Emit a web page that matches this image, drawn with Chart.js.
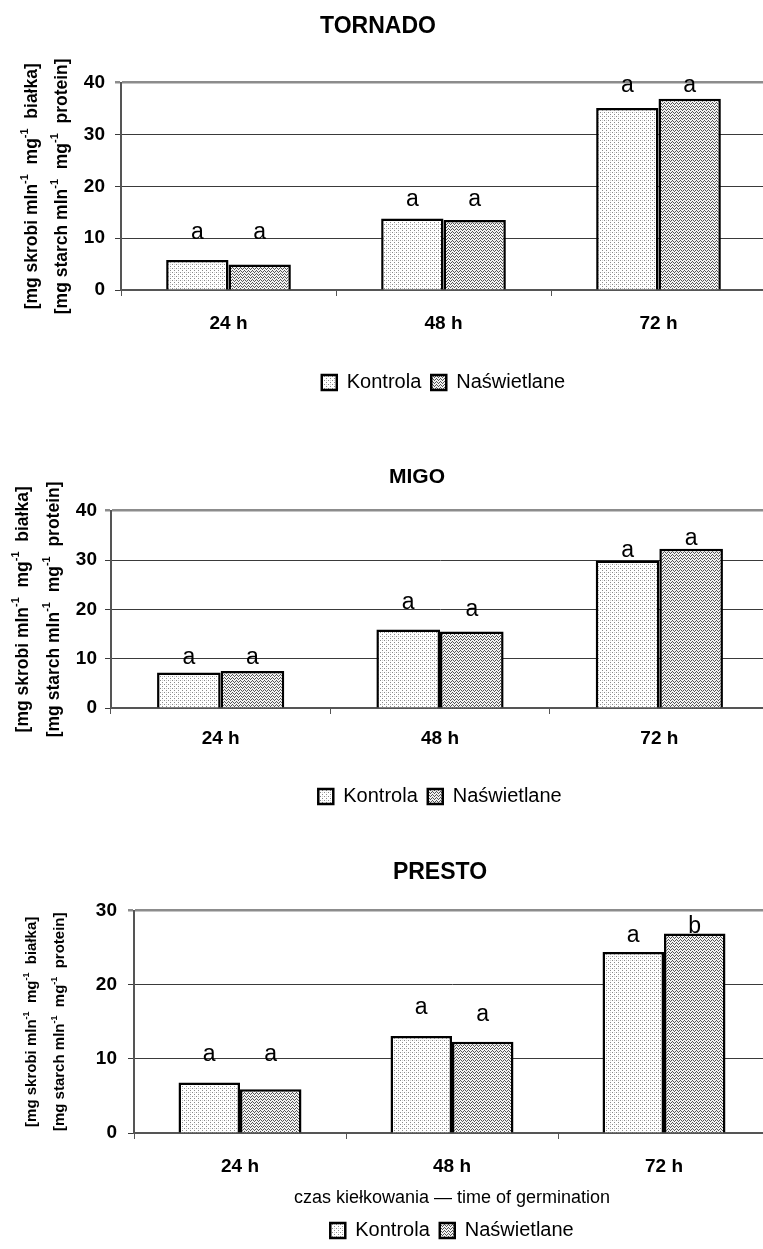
<!DOCTYPE html>
<html>
<head>
<meta charset="utf-8">
<script src="https://cdn.jsdelivr.net/npm/chart.js@4"></script>
<style>
html,body{margin:0;padding:0;background:#fff;overflow:hidden;width:763px;height:1249px;position:relative;}
.wrap{position:absolute;left:0;}
canvas{display:block;}
</style>
</head>
<body>
<div class="wrap" style="top:0px"><canvas id="c1" width="766" height="410"></canvas></div>
<div class="wrap" style="top:440px"><canvas id="c2" width="769" height="400"></canvas></div>
<div class="wrap" style="top:840px"><canvas id="c3" width="770" height="420"></canvas></div>
<script>
// ---------- data ----------
const categories = ['24 h', '48 h', '72 h'];
const seriesNames = ['Kontrola', 'Naświetlane'];

const tornadoKontrola    = [5.8, 13.8, 35.1];
const tornadoNaswietlane = [4.9, 13.5, 36.9];
const migoKontrola       = [7.2, 15.9, 29.9];
const migoNaswietlane    = [7.5, 15.5, 32.3];
const prestoKontrola     = [6.8, 13.1, 24.4];
const prestoNaswietlane  = [5.9, 12.3, 26.9];

// significance letters and the value level at which each letter sits
const tornadoLettersK = ['a', 'a', 'a'];
const tornadoLettersN = ['a', 'a', 'a'];
const tornadoLevelK   = [9.8, 16.2, 38.1];
const tornadoLevelN   = [9.8, 16.2, 38.1];
const migoLettersK    = ['a', 'a', 'a'];
const migoLettersN    = ['a', 'a', 'a'];
const migoLevelK      = [8.9, 20.0, 30.7];
const migoLevelN      = [8.9, 18.6, 33.1];
const prestoLettersK  = ['a', 'a', 'a'];
const prestoLettersN  = ['a', 'a', 'b'];
const prestoLevelK    = [9.7, 16.0, 25.7];
const prestoLevelN    = [9.7, 15.1, 27.0];

const yMax40 = 40;
const yMax30 = 30;
const yStep  = 10;

const titles = ['TORNADO', 'MIGO', 'PRESTO'];
const yTitlePl = ['[mg skrobi mln', '-1', '  mg', '-1', '  białka]'];
const yTitleEn = ['[mg starch mln', '-1', '  mg', '-1', '  protein]'];
const xTitle = 'czas kiełkowania — time of germination';

// ---------- patterns ----------
function dotPattern() {
  const c = document.createElement('canvas'); c.width = 4; c.height = 4;
  const g = c.getContext('2d');
  g.fillStyle = '#ffffff'; g.fillRect(0, 0, 4, 4);
  g.fillStyle = '#8a8a8a';
  g.fillRect(0, 0, 1, 1); g.fillRect(2, 2, 1, 1);
  g.fillStyle = '#d0d0d0';
  g.fillRect(2, 0, 1, 1);
  return g.createPattern(c, 'repeat');
}
function zigPattern() {
  const c = document.createElement('canvas'); c.width = 4; c.height = 3;
  const g = c.getContext('2d');
  g.fillStyle = '#f2f2f2'; g.fillRect(0, 0, 4, 3);
  g.fillStyle = '#555555';
  const ys = [0, 1, 2, 1];
  for (let x = 0; x < 4; x++) g.fillRect(x, ys[x], 1, 1);
  return g.createPattern(c, 'repeat');
}

const FONT = "'Liberation Sans', Arial, sans-serif";
Chart.defaults.font.family = FONT;
Chart.defaults.color = '#000';

function makePlugin(spec) {
  return {
    id: 'extras',
    afterLayout(chart) {
      const t = chart.titleBlock;
      if (t) { t.left += spec.titleShift; t.right += spec.titleShift; }
    },
    afterDatasetsDraw(chart) {
      const ctx = chart.ctx, ys = chart.scales.y;
      ctx.save();
      ctx.fillStyle = '#000';
      ctx.font = `23px ${FONT}`;
      ctx.textAlign = 'center';
      ctx.textBaseline = 'alphabetic';
      spec.letters.forEach((set, di) => {
        const meta = chart.getDatasetMeta(di);
        meta.data.forEach((bar, i) => {
          ctx.fillText(set.text[i], bar.x, ys.getPixelForValue(set.level[i]));
        });
      });
      ctx.restore();
    },
    afterDraw(chart) {
      const ctx = chart.ctx, ca = chart.chartArea;
      const cy = (ca.top + ca.bottom) / 2;
      const size = spec.ySize;
      const big = `bold ${size}px ${FONT}`;
      const small = `bold ${Math.round(size * 0.6)}px ${FONT}`;
      [yTitlePl, yTitleEn].forEach((segs, li) => {
        ctx.save();
        ctx.translate(spec.yTitleX[li], cy);
        ctx.rotate(-Math.PI / 2);
        ctx.fillStyle = '#000';
        ctx.textBaseline = 'middle';
        ctx.textAlign = 'left';
        let total = 0;
        segs.forEach((t, k) => { ctx.font = (k % 2) ? small : big; total += ctx.measureText(t).width; });
        let x = -total / 2;
        segs.forEach((t, k) => {
          ctx.font = (k % 2) ? small : big;
          ctx.fillText(t, x, (k % 2) ? -size * 0.38 : 0);
          x += ctx.measureText(t).width;
        });
        ctx.restore();
      });
    }
  };
}

function build(id, spec) {
  const dots = dotPattern(), zig = zigPattern();
  new Chart(document.getElementById(id), {
    type: 'bar',
    data: {
      labels: categories,
      datasets: [
        { label: seriesNames[0], data: spec.k, backgroundColor: dots, borderColor: '#000', borderWidth: 2.5,
          categoryPercentage: 0.58, barPercentage: 1 },
        { label: seriesNames[1], data: spec.n, backgroundColor: zig, borderColor: '#000', borderWidth: 2.5,
          categoryPercentage: 0.58, barPercentage: 1 }
      ]
    },
    options: {
      responsive: false,
      animation: false,
      layout: { padding: { left: 0, right: 0, top: 0, bottom: spec.padB } },
      plugins: {
        tooltip: { enabled: false },
        title: {
          display: true, text: spec.title, fullSize: spec.titleFull,
          font: { size: spec.titleSize, weight: 'bold', family: FONT }, color: '#000',
          padding: { top: spec.titlePad[0], bottom: spec.titlePad[1] }
        },
        legend: {
          position: 'bottom', fullSize: false,
          labels: { boxWidth: 15, boxHeight: 15, padding: 10, color: '#000',
                    font: { size: 20, family: FONT } }
        }
      },
      scales: {
        x: {
          grid: { display: true, drawOnChartArea: false, drawTicks: true, tickLength: 6, color: '#555', offset: true },
          border: { display: true, color: '#555', width: 2 },
          ticks: { padding: spec.xPad, color: '#000', font: { size: 19, weight: 'bold', family: FONT } },
          title: spec.xTitle ? { display: true, text: xTitle, color: '#000',
                   font: { size: 18, family: FONT }, padding: { top: 0, bottom: 2 } } : { display: false },
          afterFit(s) { s.height = spec.xHeight; }
        },
        y: {
          min: 0, max: spec.max,
          ticks: { stepSize: yStep, padding: spec.yPad, color: '#000', font: { size: 19, weight: 'bold', family: FONT } },
          grid: {
            tickLength: 6,
            color: (c) => (c.tick && c.tick.value === spec.max) ? '#8c8c8c' : '#3a3a3a',
            lineWidth: (c) => (c.tick && c.tick.value === spec.max) ? 2.5 : 1
          },
          border: { display: true, color: '#555', width: 2 },
          afterFit(s) { s.width = spec.yWidth; }
        }
      }
    },
    plugins: [makePlugin(spec)]
  });
}

build('c1', {
  title: titles[0], titleFull: true, titleSize: 23, titlePad: [13, 42], titleShift: -5,
  k: tornadoKontrola, n: tornadoNaswietlane, max: yMax40,
  letters: [{ text: tornadoLettersK, level: tornadoLevelK }, { text: tornadoLettersN, level: tornadoLevelN }],
  padB: 7.5, xHeight: 72.5, xPad: 16, yWidth: 121, yPad: 10, yTitleX: [32, 62], ySize: 17.5, xTitle: false
});
build('c2', {
  title: titles[1], titleFull: false, titleSize: 21, titlePad: [25, 20.5], titleShift: -23,
  k: migoKontrola, n: migoNaswietlane, max: yMax40,
  letters: [{ text: migoLettersK, level: migoLevelK }, { text: migoLettersN, level: migoLevelN }],
  padB: 23.5, xHeight: 68.5, xPad: 13, yWidth: 111, yPad: 8, yTitleX: [23, 54], ySize: 17.5, xTitle: false
});
build('c3', {
  title: titles[2], titleFull: false, titleSize: 23, titlePad: [19, 24], titleShift: -12,
  k: prestoKontrola, n: prestoNaswietlane, max: yMax30,
  letters: [{ text: prestoLettersK, level: prestoLevelK }, { text: prestoLettersN, level: prestoLevelN }],
  padB: 9.5, xHeight: 77.5, xPad: 16, yWidth: 134, yPad: 11, yTitleX: [32, 60], ySize: 15, xTitle: true
});
</script>
</body>
</html>
